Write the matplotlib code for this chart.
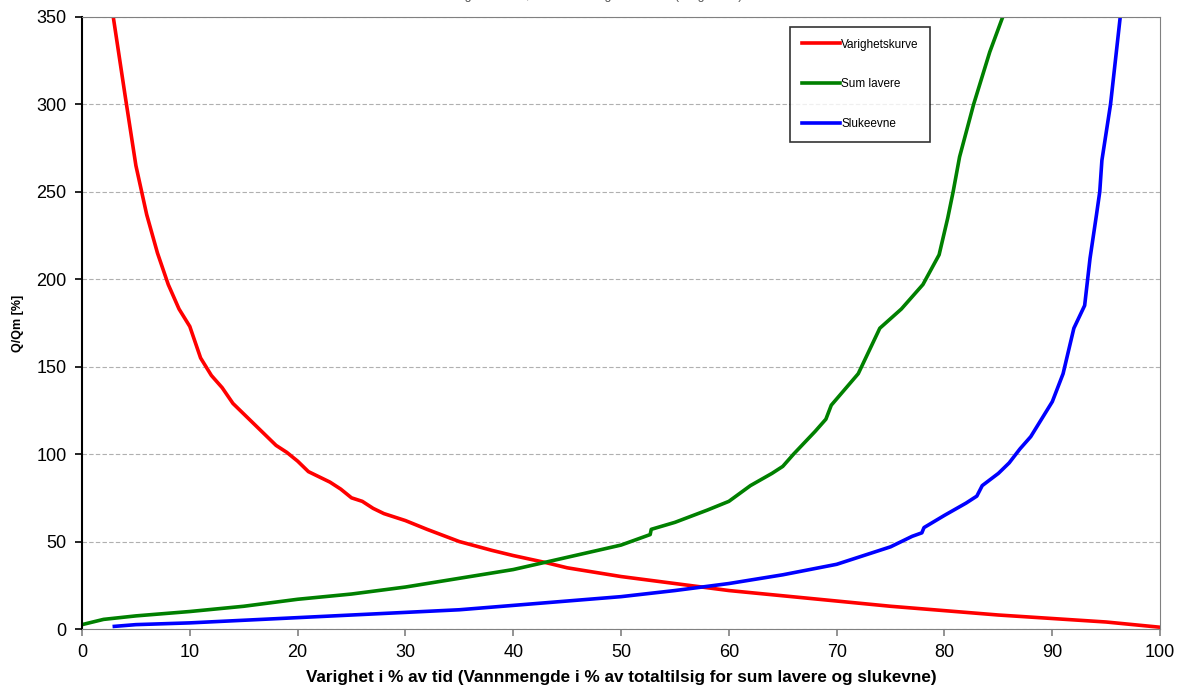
import matplotlib.pyplot as plt

plt.rcParams['font.family'] = ['Liberation Sans', 'DejaVu Sans']

# Varighetskurve (duration curve), Q/Qm in %
vk_x = [2.9, 4, 5, 6, 7, 8, 9, 10, 11, 12, 13, 14, 15, 16, 17, 18, 19, 20,
        21, 22, 23, 24, 25, 26, 27, 28, 30, 32, 35, 38, 40, 43, 45, 50, 55,
        60, 65, 70, 75, 80, 85, 90, 95, 100]
vk_y = [350, 305, 265, 237, 215, 197, 183, 173, 155, 145, 138, 129, 123, 117,
        111, 105, 101, 96, 90, 87, 84, 80, 75, 73, 69, 66, 62, 57, 50, 45, 42,
        38, 35, 30, 26, 22, 19, 16, 13, 10.5, 8, 6, 4, 1]

# Sum lavere
sl_x = [0, 2, 5, 10, 15, 20, 25, 30, 35, 40, 45, 50, 52.7, 52.8, 55, 58, 60,
        62, 64, 65, 66, 68, 69, 69.5, 72, 74, 76, 78, 79.5, 80.3, 80.8, 81.4,
        82.7, 84.2, 85.4]
sl_y = [2.5, 5.5, 7.5, 10, 13, 17, 20, 24, 29, 34, 41, 48, 54, 57, 61, 68, 73,
        82, 89, 93, 100, 113, 120, 128, 146, 172, 183, 197, 214, 235, 250, 270,
        300, 330, 350]

# Slukeevne
sk_x = [3, 5, 10, 15, 20, 25, 30, 35, 40, 45, 50, 55, 60, 65, 70, 72, 75, 77,
        77.9, 78.1, 80, 82, 83, 83.5, 85, 86, 87, 88, 89, 90, 91, 92, 93,
        93.5, 94.1, 94.4, 94.6, 95.4, 96.3]
sk_y = [1.5, 2.5, 3.5, 5, 6.5, 8, 9.5, 11, 13.5, 16, 18.5, 22, 26, 31, 37, 41,
        47, 53, 55, 58, 65, 72, 76, 82, 89, 95, 103, 110, 120, 130, 146, 172,
        185, 212, 237, 250, 268, 300, 350]

fig = plt.figure(figsize=(11.85, 6.9), dpi=100)
ax = fig.add_axes([0.0692, 0.0884, 0.9098, 0.887])

ax.plot(vk_x, vk_y, color='#ff0000', lw=2.6, label='Varighetskurve')
ax.plot(sl_x, sl_y, color='#008000', lw=2.6, label='Sum lavere')
ax.plot(sk_x, sk_y, color='#0000ff', lw=2.6, label='Slukeevne')

ax.set_xlim(0, 100)
ax.set_ylim(0, 350)
ax.set_xticks(range(0, 101, 10))
ax.set_yticks(range(0, 351, 50))
ax.yaxis.grid(True, linestyle=(0, (4, 2)), color='#b0b0b0', lw=0.8)
ax.set_axisbelow(True)

for side in ['top', 'right', 'bottom']:
    ax.spines[side].set_color('#808080')
ax.spines['left'].set_color('black')
ax.spines['left'].set_linewidth(1.5)
ax.tick_params(axis='y', colors='black', labelsize=13, length=5, width=1.2,
               pad=6)
ax.tick_params(axis='x', colors='#808080', labelcolor='black', labelsize=13,
               length=5, width=1.2, pad=6)

ax.set_xlabel('Varighet i % av tid (Vannmengde i % av totaltilsig for sum lavere og slukevne)',
              fontsize=12.3, fontweight='bold', labelpad=6)
ax.set_ylabel('Q/Qm [%]', fontsize=9, fontweight='bold', labelpad=9)

leg = ax.legend(loc='upper left', bbox_to_anchor=(0.657, 0.984), fontsize=8.5,
                frameon=True, fancybox=False, edgecolor='black',
                labelspacing=2.35, handlelength=3.2, handletextpad=0.1,
                borderpad=1.0, borderaxespad=0)
leg.get_frame().set_linewidth(1.2)

# title sits above the canvas edge, only its lower part shows
fig.text(0.5, 1.006, 'Varighetskurve, sum lavere og slukeevne (tilsigsserie)',
         ha='center', va='center', fontsize=9, color='#555555')

fig.savefig('out.png', dpi=100)
